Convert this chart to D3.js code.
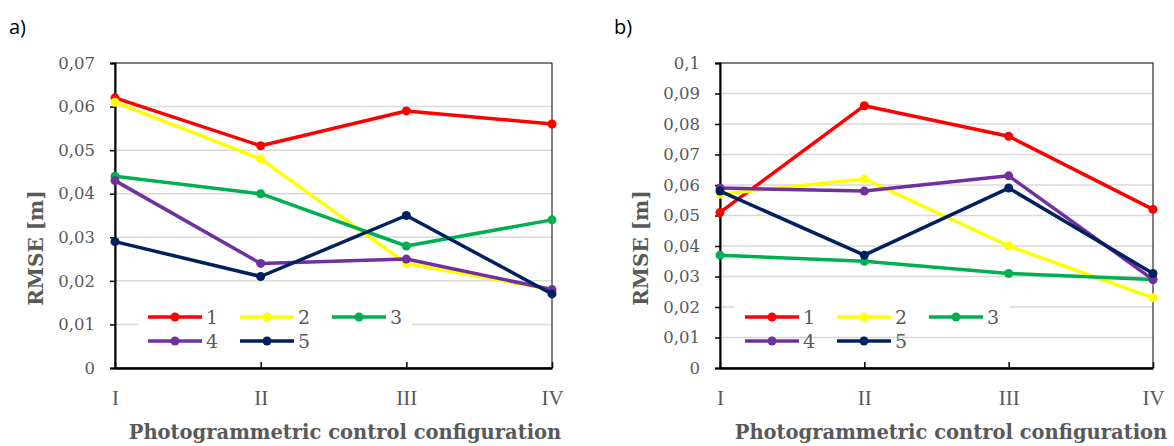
<!DOCTYPE html>
<html>
<head>
<meta charset="utf-8">
<script src="https://cdn.jsdelivr.net/npm/d3@7"></script>
<style>
  body { margin: 0; background: #fff; }
  svg { display: block; }
</style>
</head>
<body>
<svg id="chart" width="1174" height="446"></svg>
<script>
const categories = ["I", "II", "III", "IV"];
const seriesNames = ["1", "2", "3", "4", "5"];
const colors = ["#ff0000", "#ffff00", "#00b050", "#7030a0", "#002060"];

// panel a)
const valuesA = [
  [0.062, 0.051, 0.059, 0.056],
  [0.061, 0.048, 0.024, 0.018],
  [0.044, 0.040, 0.028, 0.034],
  [0.043, 0.024, 0.025, 0.018],
  [0.029, 0.021, 0.035, 0.017]
];
const ticksA = [0, 0.01, 0.02, 0.03, 0.04, 0.05, 0.06, 0.07];

// panel b)
const valuesB = [
  [0.051, 0.086, 0.076, 0.052],
  [0.057, 0.062, 0.040, 0.023],
  [0.037, 0.035, 0.031, 0.029],
  [0.059, 0.058, 0.063, 0.029],
  [0.058, 0.037, 0.059, 0.031]
];
const ticksB = [0, 0.01, 0.02, 0.03, 0.04, 0.05, 0.06, 0.07, 0.08, 0.09, 0.1];

const xTitle = "Photogrammetric control configuration";
const yTitle = "RMSE [m]";

const svg = d3.select("#chart");
const fmt = d => d === 0 ? "0" : String(+d.toFixed(2)).replace(".", ",");

function drawPanel(opt) {
  const g = svg.append("g");
  const x = d3.scalePoint().domain(categories).range([opt.left, opt.right]);
  const y = d3.scaleLinear().domain([0, d3.max(opt.ticks)]).range([368, 63]);

  g.append("text")
    .attr("x", opt.labelX).attr("y", 34)
    .attr("font-family", "Open Sans, sans-serif").attr("font-size", 20)
    .attr("fill", "#000")
    .text(opt.label);

  // gridlines
  g.selectAll(".grid").data(opt.ticks.slice(1, -1)).enter().append("line")
    .attr("x1", opt.left).attr("x2", opt.right)
    .attr("y1", d => y(d)).attr("y2", d => y(d))
    .attr("stroke", "#d9d9d9").attr("stroke-width", 1.5);

  // plot border
  g.append("rect")
    .attr("x", opt.left).attr("y", y(d3.max(opt.ticks)))
    .attr("width", opt.right - opt.left).attr("height", y(0) - y(d3.max(opt.ticks)))
    .attr("fill", "none").attr("stroke", "#000").attr("stroke-width", 1);

  // y axis
  const yAxis = g.append("g")
    .attr("transform", `translate(${opt.left},0)`)
    .call(d3.axisLeft(y).tickValues(opt.ticks).tickFormat(fmt).tickSize(5).tickPadding(15));
  yAxis.select(".domain").attr("stroke-width", 2);
  yAxis.selectAll(".tick line").attr("stroke-width", 1.5);
  yAxis.selectAll("text")
    .attr("font-family", "DejaVu Serif, serif").attr("font-size", 16.5).attr("fill", "#595959");

  // x axis
  const xAxis = g.append("g")
    .attr("transform", `translate(0,${y(0)})`)
    .call(d3.axisBottom(x).tickSizeInner(-6).tickSizeOuter(0).tickPadding(22));
  xAxis.select(".domain").attr("stroke-width", 2.5);
  xAxis.selectAll(".tick line").attr("stroke-width", 1.5);
  xAxis.selectAll("text")
    .attr("font-family", "Liberation Serif, serif").attr("font-size", 21).attr("fill", "#595959");

  // legend
  const lg = g.append("g");
  lg.append("rect")
    .attr("x", opt.legendX - 10).attr("y", opt.legendBgY)
    .attr("width", 274).attr("height", opt.legendBgH)
    .attr("fill", "#fff");
  seriesNames.forEach((name, i) => {
    const lx = opt.legendX + (i % 3) * 92;
    const ly = 317 + Math.floor(i / 3) * 24;
    lg.append("line")
      .attr("x1", lx).attr("x2", lx + 54).attr("y1", ly).attr("y2", ly)
      .attr("stroke", colors[i]).attr("stroke-width", 3.5);
    lg.append("circle").attr("cx", lx + 27).attr("cy", ly).attr("r", 4.5).attr("fill", colors[i]);
    lg.append("text")
      .attr("x", lx + 58).attr("y", ly + 7)
      .attr("font-family", "DejaVu Serif, serif").attr("font-size", 19).attr("fill", "#595959")
      .text(name);
  });

  // series
  const line = d3.line().x((d, j) => x(categories[j])).y(d => y(d));
  opt.values.forEach((vals, i) => {
    g.append("path").datum(vals)
      .attr("d", line).attr("fill", "none")
      .attr("stroke", colors[i]).attr("stroke-width", 3.5).attr("stroke-linejoin", "round");
    g.selectAll(null).data(vals).enter().append("circle")
      .attr("cx", (d, j) => x(categories[j])).attr("cy", d => y(d))
      .attr("r", 4.5).attr("fill", colors[i]);
  });

  // axis titles
  g.append("text")
    .attr("transform", `translate(${opt.yTitleX},248) rotate(-90)`)
    .attr("text-anchor", "middle")
    .attr("font-family", "DejaVu Serif, serif").attr("font-weight", "bold").attr("font-size", 20)
    .attr("fill", "#595959")
    .text(yTitle);
  g.append("text")
    .attr("x", opt.xTitleX).attr("y", 439)
    .attr("text-anchor", "middle")
    .attr("font-family", "DejaVu Serif, serif").attr("font-weight", "bold").attr("font-size", 19.5)
    .attr("fill", "#595959")
    .text(xTitle);
}

drawPanel({ label: "a)", labelX: 9, left: 115, right: 552, values: valuesA, ticks: ticksA,
  legendX: 148, legendBgY: 305, legendBgH: 48, yTitleX: 43, xTitleX: 345 });
drawPanel({ label: "b)", labelX: 614, left: 720, right: 1153, values: valuesB, ticks: ticksB,
  legendX: 745, legendBgY: 303, legendBgH: 28, yTitleX: 648, xTitleX: 951 });
</script>
</body>
</html>
